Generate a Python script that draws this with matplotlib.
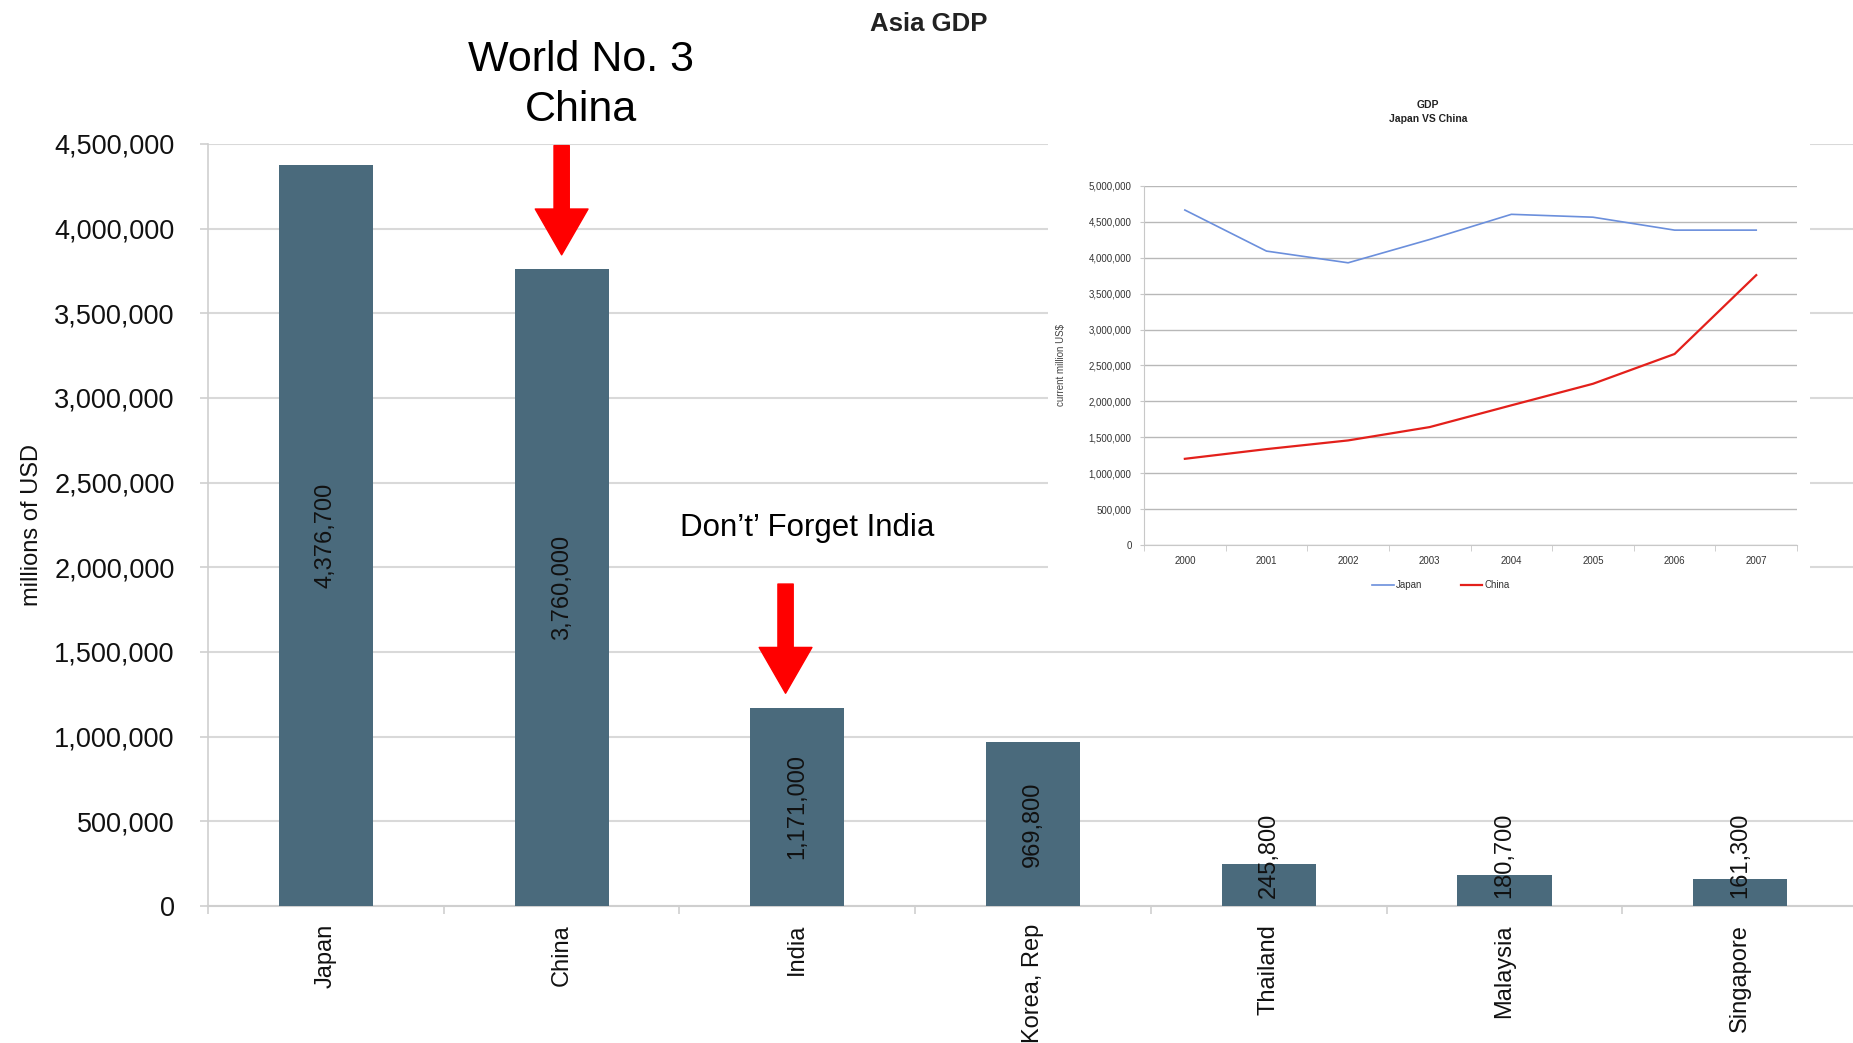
import matplotlib
matplotlib.use('Agg')
import matplotlib.pyplot as plt
from matplotlib.patches import FancyArrowPatch, Rectangle
from matplotlib.ticker import FuncFormatter, MultipleLocator, FixedLocator

plt.rcParams['font.family'] = ['Liberation Sans', 'DejaVu Sans']

# main chart data (millions of USD)
countries = ['Japan', 'China', 'India', 'Korea, Rep', 'Thailand', 'Malaysia', 'Singapore']
gdp = [4376700, 3760000, 1171000, 969800, 245800, 180700, 161300]

# inset chart data
years = ['2000', '2001', '2002', '2003', '2004', '2005', '2006', '2007']
japan_gdp = [4665000, 4093000, 3930000, 4255000, 4605000, 4565000, 4385000, 4385000]
china_gdp = [1200000, 1335000, 1456000, 1642000, 1945000, 2245000, 2660000, 3758000]

bar_color = '#4A6A7C'
grid_color = '#d9d9d9'
comma = FuncFormatter(lambda v, p: f'{int(v):,}')

fig = plt.figure(figsize=(18.53, 10.43), dpi=100)
ax = fig.add_axes([0.1123, 0.1314, 0.8904, 0.7306])

x = list(range(len(countries)))
ax.bar(x, gdp, width=0.4, color=bar_color, zorder=3)

ax.set_xlim(-0.5, len(countries) - 0.5)
ax.set_ylim(0, 4500000)
ax.yaxis.set_major_locator(MultipleLocator(500000))
ax.yaxis.set_major_formatter(comma)
ax.grid(axis='y', color=grid_color, linewidth=1.5, zorder=0)
ax.set_axisbelow(True)
for s in ['top', 'right']:
    ax.spines[s].set_visible(False)
ax.spines['left'].set_color('#cfcfcf')
ax.spines['bottom'].set_color('#cfcfcf')
ax.spines['left'].set_linewidth(1.2)
ax.spines['bottom'].set_linewidth(1.5)

ax.set_xticks(x)
ax.set_xticklabels(countries, rotation=90, va='top', ha='center')
ax.xaxis.set_minor_locator(FixedLocator([i - 0.5 for i in range(len(countries) + 1)]))
ax.tick_params(axis='x', which='major', length=0, pad=13, labelsize=17, labelcolor='#111111')
ax.tick_params(axis='x', which='minor', length=6, color='#cfcfcf', width=1.2)
ax.tick_params(axis='y', length=6, color='#cfcfcf', width=1.2, pad=18, labelsize=19.5, labelcolor='#111111')
ax.set_ylabel('millions of USD', fontsize=17, labelpad=14, color='#111111')
ax.yaxis.set_label_coords(-0.1, 0.5)

# value labels
for xi, v in zip(x, gdp):
    if v > 500000:
        ax.text(xi, v / 2, f'{v:,}', rotation=90, ha='center', va='center',
                fontsize=17, color='#111111', zorder=4)
    else:
        ax.text(xi, 45000, f'{v:,}', rotation=90, ha='center', va='bottom',
                fontsize=17, color='#111111', zorder=4)

fig.text(0.501, 0.977, 'Asia GDP', ha='center', va='center', fontsize=18.5,
         fontweight='bold', color='#222222')

# annotations
ax.text(1.08, 4850000, 'World No. 3\nChina', ha='center', va='center',
        fontsize=31, linespacing=1.33, clip_on=False)
ax.text(2.04, 2232000, 'Don\u2019t\u2019 Forget India', ha='center', va='center', fontsize=22.5)

arrow_style = 'simple,head_length=33,head_width=38,tail_width=11'
for idx, off in [(1, 0.0), (2, -0.05)]:
    v = gdp[idx]
    arr = FancyArrowPatch((idx + off, v + 730000), (idx + off, v + 85000),
                          arrowstyle=arrow_style, mutation_scale=1,
                          color='#ff0000', shrinkA=0, shrinkB=0, zorder=6,
                          clip_on=False)
    ax.add_patch(arr)

# inset: Japan vs China
fig.patches.append(Rectangle((0.5656, 0.4199), 0.4112, 0.4918, transform=fig.transFigure,
                             facecolor='white', edgecolor='none', zorder=5))
ax2 = fig.add_axes([0.6174, 0.4775, 0.3524, 0.3442], zorder=6)
ax2.set_facecolor('white')
xi2 = list(range(len(years)))
ax2.plot(xi2, japan_gdp, color='#6b8fdc', linewidth=1.2, label='Japan')
ax2.plot(xi2, china_gdp, color='#e3201b', linewidth=1.6, label='China')
ax2.set_xlim(-0.5, len(years) - 0.5)
ax2.set_ylim(0, 5000000)
ax2.yaxis.set_major_locator(MultipleLocator(500000))
ax2.yaxis.set_major_formatter(comma)
ax2.grid(axis='y', color='#b8b8b8', linewidth=1.0)
ax2.set_axisbelow(True)
for s in ['top', 'right']:
    ax2.spines[s].set_visible(False)
ax2.spines['left'].set_color('#c8c8c8')
ax2.spines['bottom'].set_color('#c8c8c8')
ax2.set_xticks(xi2)
ax2.set_xticklabels(years)
ax2.xaxis.set_minor_locator(FixedLocator([i - 0.5 for i in range(len(years) + 1)]))
ax2.tick_params(axis='x', which='major', length=0, pad=8, labelsize=7, labelcolor='#333333')
ax2.tick_params(axis='x', which='minor', length=4, color='#c8c8c8')
ax2.tick_params(axis='y', length=3, color='#c8c8c8', pad=6, labelsize=7, labelcolor='#333333')
ax2.set_ylabel('current million US$', fontsize=7, color='#444444')
ax2.yaxis.set_label_coords(-0.12, 0.5)
fig.text(0.7707, 0.8926, 'GDP\nJapan VS China', ha='center', va='center', fontsize=7.5,
         fontweight='bold', color='#222222', linespacing=1.5, zorder=7)
ax2.legend(loc='center', bbox_to_anchor=(0.7777, 0.439), bbox_transform=fig.transFigure,
           ncol=2, frameon=False, fontsize=7, handlelength=2.2, columnspacing=4,
           handletextpad=0.2, labelcolor='#333333')

fig.savefig('out.png', dpi=100)
